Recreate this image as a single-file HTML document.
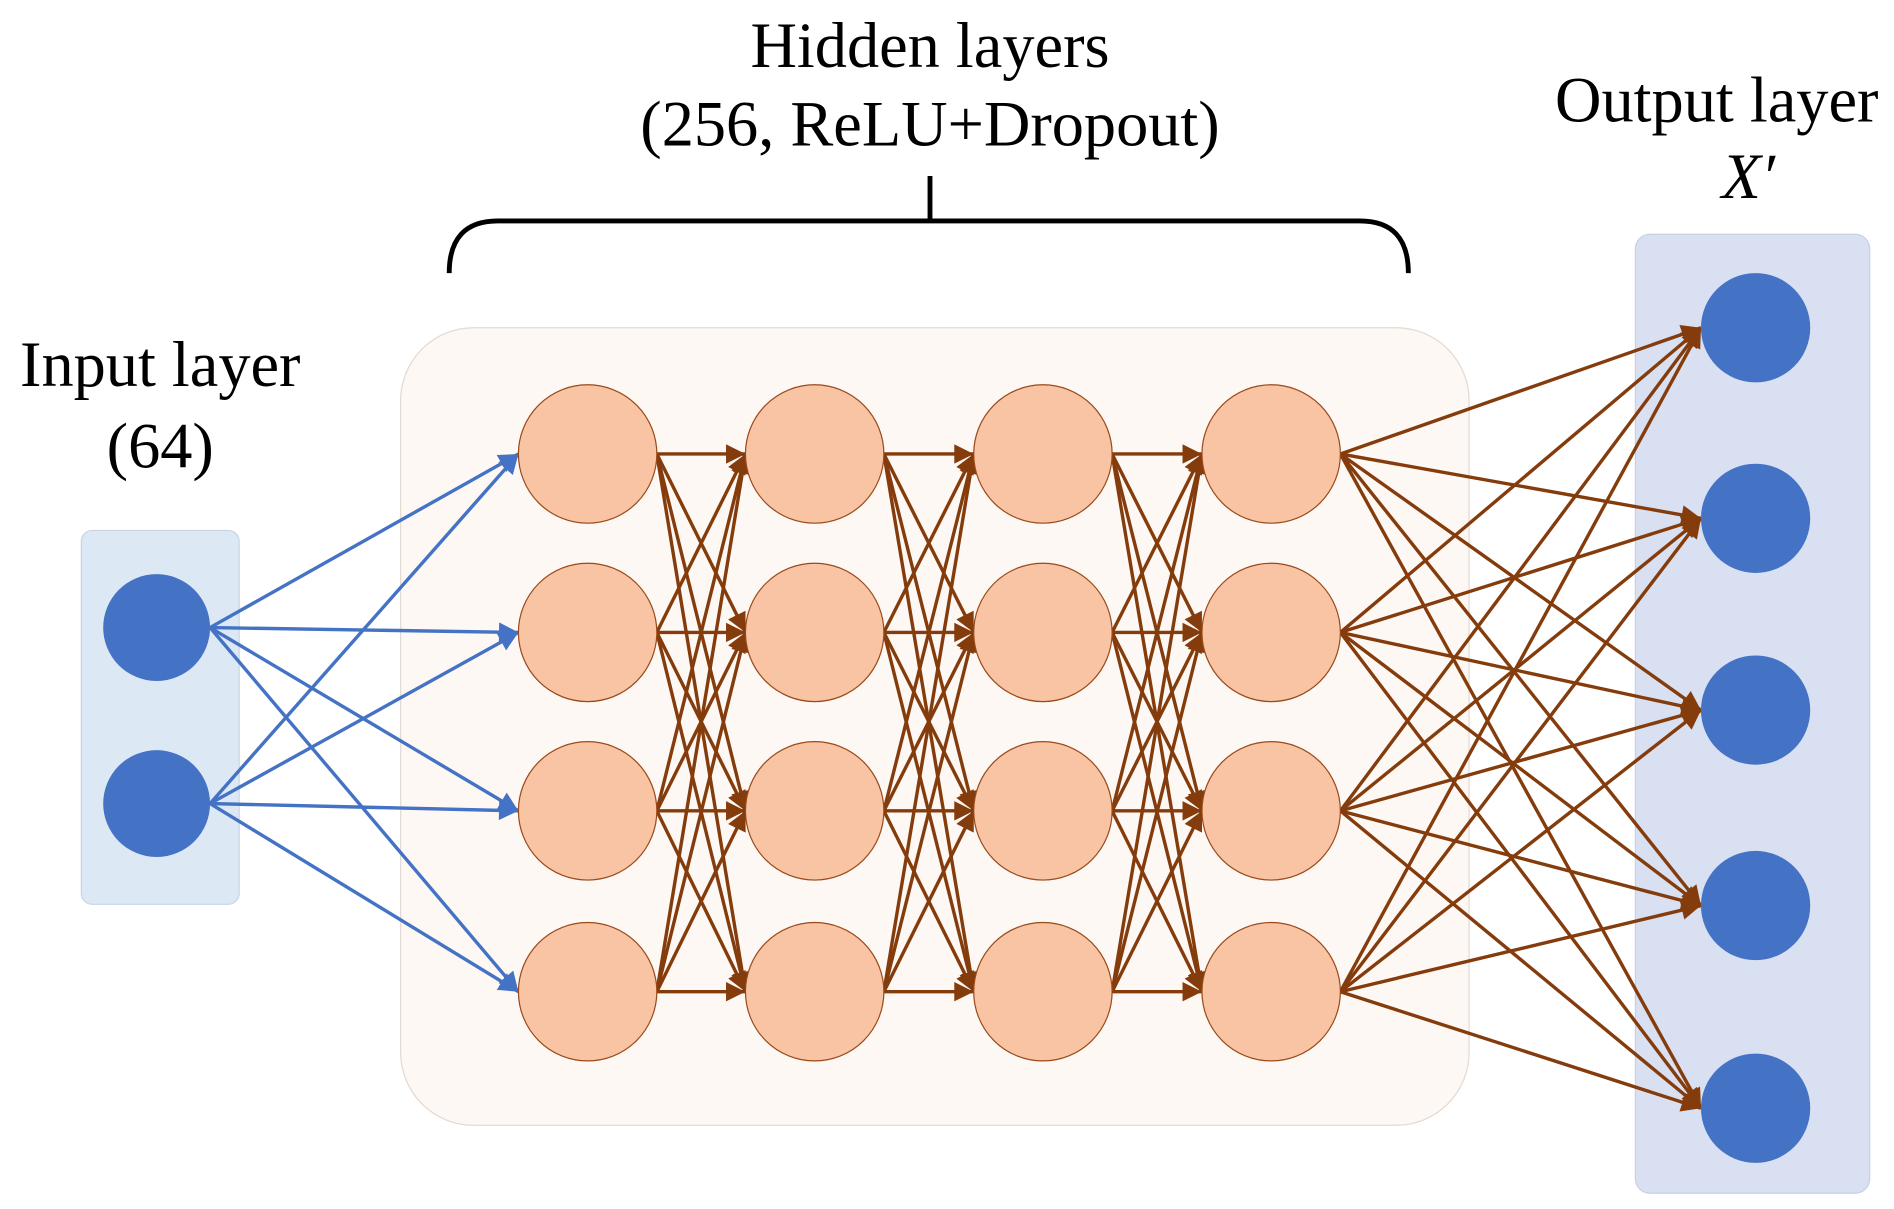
<!DOCTYPE html>
<html><head><meta charset="utf-8"><style>
html,body{margin:0;padding:0;background:#fff;}
svg{display:block;}
text{font-family:"Liberation Serif",serif;fill:#000;}
</style></head><body>
<svg id="s" width="1894" height="1209" viewBox="0 0 1560 996" preserveAspectRatio="none" xmlns="http://www.w3.org/2000/svg">
<defs>
<marker id="ab" viewBox="0 0 10 10" refX="10" refY="5" markerWidth="20" markerHeight="16" markerUnits="userSpaceOnUse" orient="auto"><path d="M0,0 L10,5 L0,10 z" fill="#4472c4"/></marker>
<marker id="ar" viewBox="0 0 10 10" refX="10" refY="5" markerWidth="20" markerHeight="16" markerUnits="userSpaceOnUse" orient="auto"><path d="M0,0 L10,5 L0,10 z" fill="#843c0c"/></marker>
</defs>
<rect x="67" y="437" width="130" height="308" rx="9" fill="#dde8f5" stroke="#c8d4e4" stroke-width="1"/>
<rect x="330" y="270" width="880" height="657" rx="60" fill="#fef8f4" stroke="#e2dad2" stroke-width="1"/>
<rect x="1347" y="193" width="193" height="790" rx="12" fill="#d9e0f2" stroke="#c8d0e4" stroke-width="1"/>
<path d="M370,225 Q370,182 410,182 L1120,182 Q1160,182 1160,225" fill="none" stroke="#000" stroke-width="4"/>
<line x1="766" y1="182" x2="766" y2="145" stroke="#000" stroke-width="4"/>
<g id="edges"></g>
<g id="nodes"></g>
<text x="766" y="55" font-size="53" text-anchor="middle">Hidden layers</text>
<text x="766" y="120" font-size="53" text-anchor="middle">(256, ReLU+Dropout)</text>
<text x="132" y="318" font-size="53" text-anchor="middle">Input layer</text>
<text x="132" y="385" font-size="53" text-anchor="middle">(64)</text>
<text x="1414" y="100" font-size="53" text-anchor="middle">Output layer</text>
<text x="1440" y="163" font-size="53" text-anchor="middle" font-style="italic">X′</text>
</svg>
<script>
var NS="http://www.w3.org/2000/svg";
var E=document.getElementById("edges"),N=document.getElementById("nodes");
function ln(x1,y1,x2,y2,c,m){var l=document.createElementNS(NS,"line");l.setAttribute("x1",x1);l.setAttribute("y1",y1);l.setAttribute("x2",x2);l.setAttribute("y2",y2);l.setAttribute("stroke",c);l.setAttribute("stroke-width","2.8");l.setAttribute("marker-end","url(#"+m+")");E.appendChild(l);}
function ci(x,y,r,f,s){var c=document.createElementNS(NS,"circle");c.setAttribute("cx",x);c.setAttribute("cy",y);c.setAttribute("r",r);c.setAttribute("fill",f);if(s){c.setAttribute("stroke",s);c.setAttribute("stroke-width","1");}N.appendChild(c);}
var inY=[517,662],hx=[484,671,859,1047],hy=[374,521,668,817],oy=[270,427,585,746,913];
var B="#4472c4",R="#843c0c",hr=57;
inY.forEach(function(a){hy.forEach(function(b){ln(173,a,427,b,B,"ab");});});
for(var k=0;k<3;k++)hy.forEach(function(a){hy.forEach(function(b){ln(hx[k]+hr,a,hx[k+1]-hr,b,R,"ar");});});
hy.forEach(function(a){oy.forEach(function(b){ln(1104,a,1401,b,R,"ar");});});
inY.forEach(function(y){ci(129,y,44,B);});
hx.forEach(function(x){hy.forEach(function(y){ci(x,y,hr,"#f8c4a4","#9a4a1a");});});
oy.forEach(function(y){ci(1446,y,45,B);});
</script>
</body></html>
